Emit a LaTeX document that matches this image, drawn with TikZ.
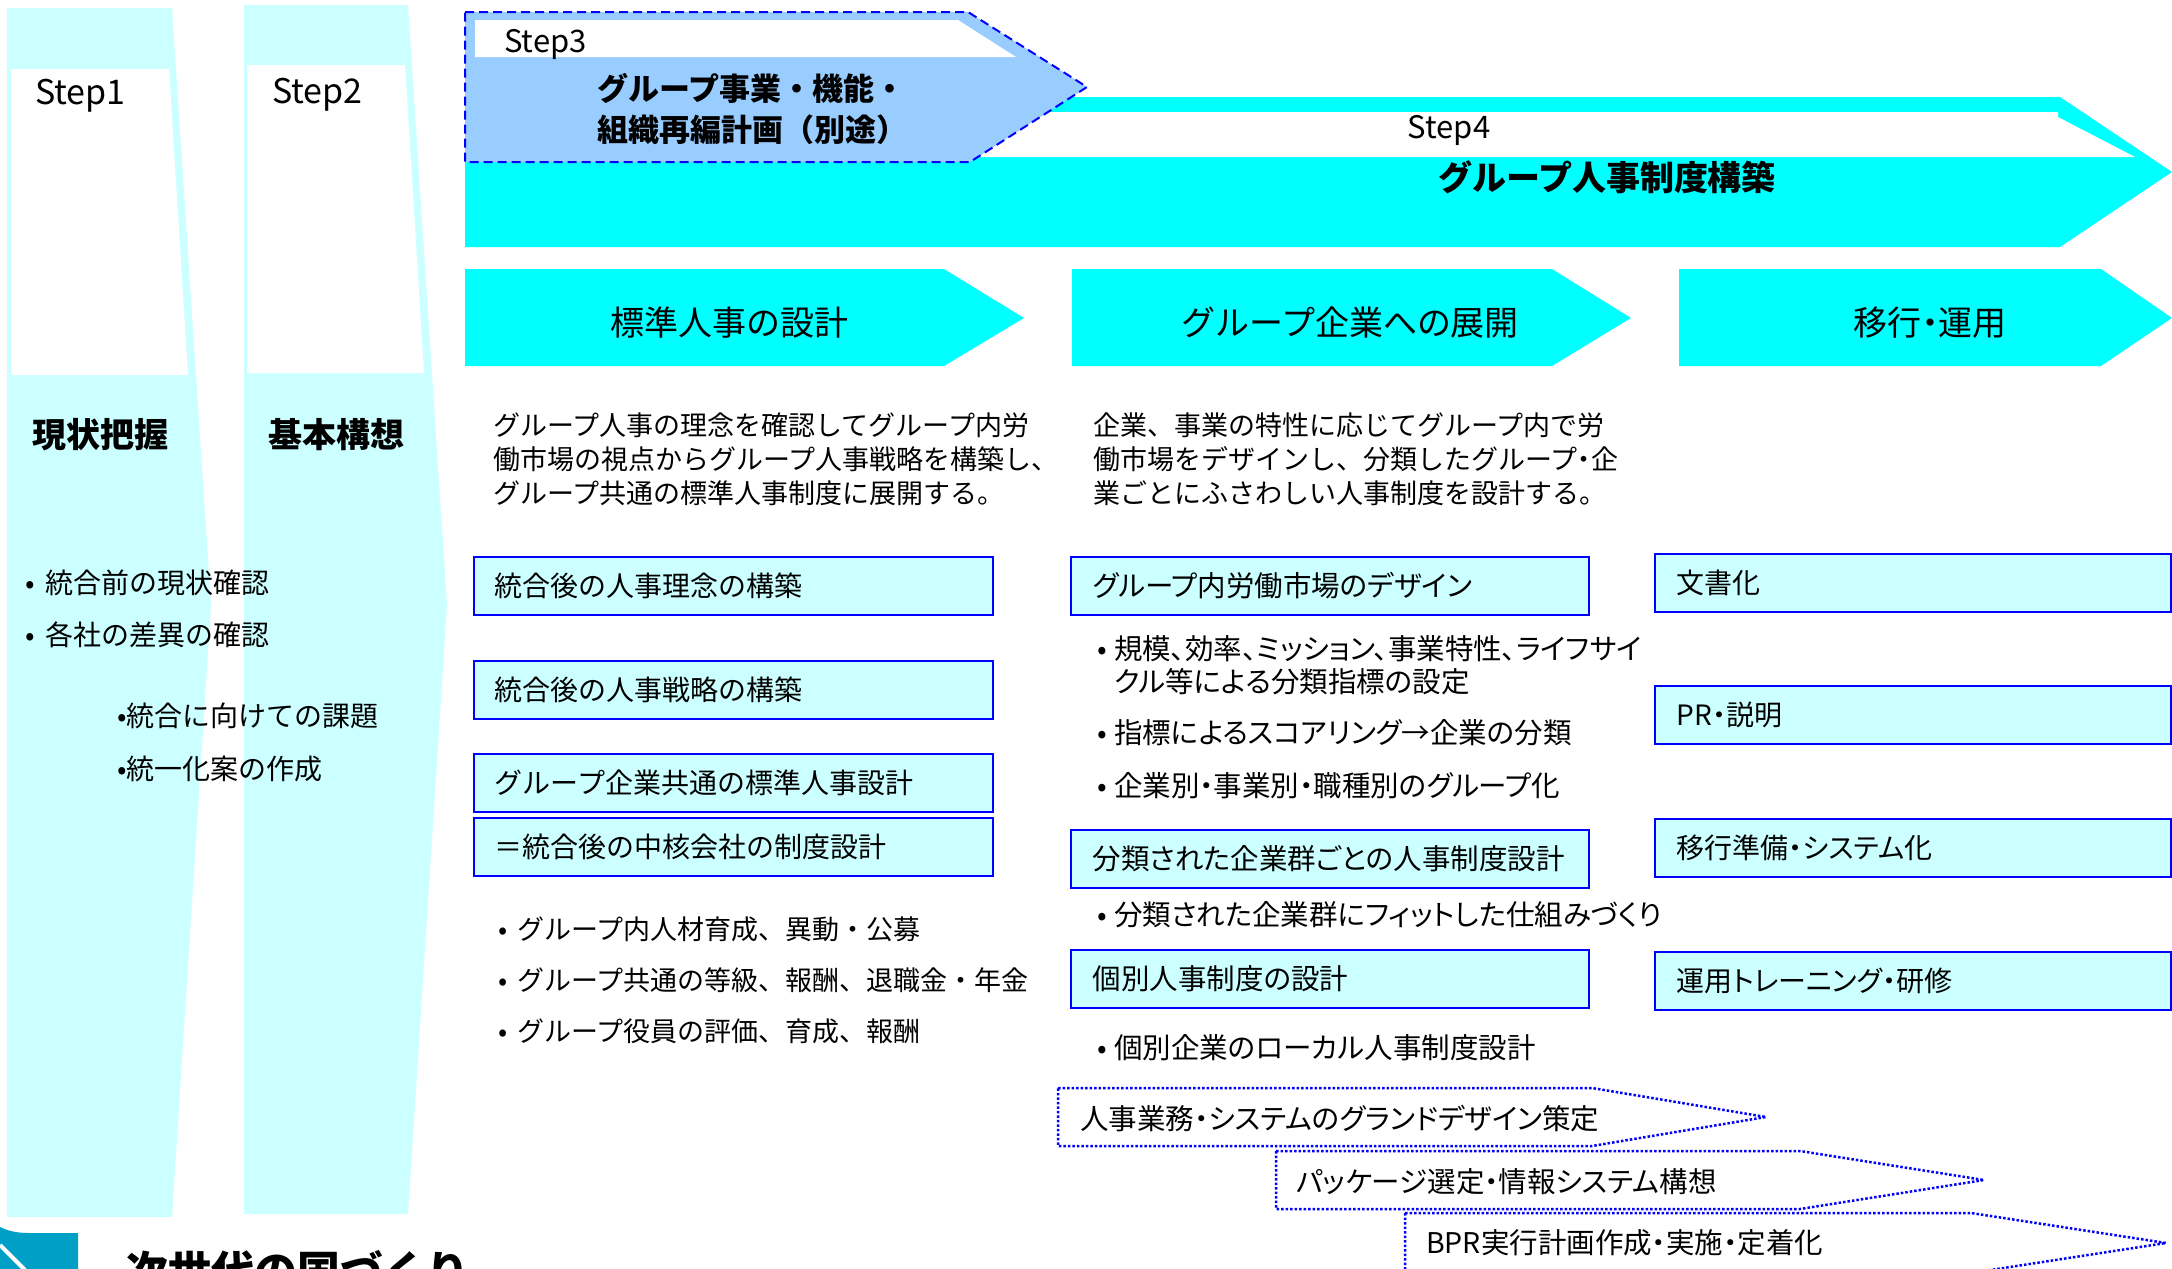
\documentclass[tikz,border=0pt]{standalone}
\usepackage{fontspec}
\setmainfont{Noto Sans CJK JP}
\newfontfamily\pjp{Noto Sans CJK JP}[CharacterWidth=AlternateProportional]
\definecolor{lc}{RGB}{204,255,255}
\definecolor{cy}{RGB}{0,255,255}
\definecolor{sthree}{RGB}{153,204,255}
\definecolor{bl}{RGB}{0,0,255}
\definecolor{db}{RGB}{0,160,198}
\begin{document}
\begin{tikzpicture}[x=1pt,y=-1pt,
  fsz/.style={font=\fontsize{#1}{34}\selectfont},
  psz/.style={font=\pjp\fontsize{#1}{34}\selectfont},
  bfsz/.style={font=\bfseries\fontsize{#1}{42}\selectfont},
  lbl/.style={inner sep=0pt, anchor=west},
  boxs/.style={draw=bl, fill=lc, line width=1.5pt, anchor=north west,
    minimum height=58pt, inner xsep=21pt, inner ysep=0pt, text width=#1, align=left,
    font=\fontsize{28}{34}\selectfont},
  dotarr/.style={draw=bl, line width=2.5pt, dash pattern=on 2.5pt off 2pt},
  phase/.style={fill=cy}
]
\useasboundingbox (0,0) rectangle (2172,1269);
\fill[white] (0,0) rectangle (2172,1269);
\clip (0,0) rectangle (2172,1269);

% ---------- Step1 / Step2 columns
\fill[lc] (7,8) -- (172,8) -- (211,605) -- (172,1217) -- (7,1217) -- cycle;
\fill[white] (11,69) -- (169,69) -- (188,375) -- (11,375) -- cycle;
\fill[lc] (244,5) -- (408,5) -- (447,605) -- (408,1214) -- (244,1214) -- cycle;
\fill[white] (247,65) -- (405,65) -- (424,373) -- (247,373) -- cycle;

\node[lbl, fsz=34] (s1) at (35,96) {Step1};
\node[lbl, fsz=34] (s2) at (272,95) {Step2};
\node[bfsz=34, inner sep=0pt] (s1t) at (100,435) {現状把握};
\node[bfsz=34, inner sep=0pt] (s2t) at (336,435) {基本構想};

\node[lbl, fsz=28] (b11) at (25,583) {\makebox[20pt][l]{•}統合前の現状確認};
\node[lbl, fsz=28] (b12) at (25,635) {\makebox[20pt][l]{•}各社の差異の確認};
\node[lbl, fsz=28] (b21) at (117,716) {•統合に向けての課題};
\node[lbl, fsz=28] (b22) at (117,769) {•統一化案の作成};

% ---------- Step4 big arrow
\fill[cy] (465,97) -- (2060,97) -- (2172,172) -- (2060,247) -- (465,247) -- cycle;
\fill[white] (475,112) -- (2058,112) -- (2058,117) -- (2135,157) -- (475,157) -- cycle;
\node[fsz=31, inner sep=0pt] (s4) at (1449,130) {Step4};
\node[bfsz=34, inner sep=0pt] (s4t) at (1607,177) {グループ人事制度構築};

% ---------- Step3 box
\filldraw[fill=sthree, draw=bl, line width=2pt, dash pattern=on 9pt off 5pt]
  (465,12) -- (968,12) -- (1087,87) -- (970,162) -- (465,162) -- cycle;
\fill[white] (475,20) -- (958,20) -- (1016,57) -- (475,57) -- cycle;
\node[lbl, fsz=31] (s3) at (504,44) {Step3};
\node[lbl, bfsz=31] (s3a) at (597,88) {グループ事業・機能・};
\node[lbl, bfsz=31] (s3b) at (597,130) {組織再編計画（別途）};

% ---------- phase chevrons
\fill[phase] (465,269) -- (944,269) -- (1024,318) -- (944,366) -- (465,366) -- cycle;
\fill[phase] (1072,269) -- (1552,269) -- (1631,318) -- (1552,366) -- (1072,366) -- cycle;
\fill[phase] (1679,269) -- (2101,269) -- (2172,318) -- (2101,366) -- (1679,366) -- cycle;
\node[fsz=34, inner sep=0pt] (p1) at (729,323) {標準人事の設計};
\node[fsz=34, inner sep=0pt] (p2) at (1350,323) {グループ企業への展開};
\node[psz=34, inner sep=0pt] (p3) at (1930,323) {移行・運用};

% ---------- descriptions
\node[lbl, fsz=27, align=left] (d1) at (493,459)
  {グループ人事の理念を確認してグループ内労\\働市場の視点からグループ人事戦略を構築し、\\グループ共通の標準人事制度に展開する。};
\node[lbl, fsz=27, align=left] (d2) at (1093,459)
  {企業、事業の特性に応じてグループ内で労\\働市場をデザインし、分類したグループ{\pjp ・}企\\業ごとにふさわしい人事制度を設計する。};

% ---------- column 1 boxes
\node[boxs=477pt] (bA) at (473,556) {統合後の人事理念の構築};
\node[boxs=477pt] (bB) at (473,660) {統合後の人事戦略の構築};
\node[boxs=477pt] (bC) at (473,753) {グループ企業共通の標準人事設計};
\node[boxs=477pt] (bD) at (473,817) {＝統合後の中核会社の制度設計};
\node[lbl, fsz=27] (c11) at (498,929) {\makebox[19pt][l]{•}グループ内人材育成、異動・公募};
\node[lbl, fsz=27] (c12) at (498,980) {\makebox[19pt][l]{•}グループ共通の等級、報酬、退職金・年金};
\node[lbl, fsz=27] (c13) at (498,1031) {\makebox[19pt][l]{•}グループ役員の評価、育成、報酬};

% ---------- column 2 boxes
\node[boxs=474pt, inner xsep=22pt, psz=28.5] (bE) at (1070,556) {グループ内労働市場のデザイン};
\node[boxs=474pt, inner xsep=22pt, psz=28.5] (bF) at (1070,829) {分類された企業群ごとの人事制度設計};
\node[boxs=474pt, inner xsep=22pt, psz=28.5] (bG) at (1070,949) {個別人事制度の設計};
\node[lbl, psz=28.5] (c21) at (1097,649) {\makebox[17pt][l]{•}規模、効率、ミッション、事業特性、ライフサイ};
\node[lbl, psz=28.5] (c21b) at (1114,682) {クル等による分類指標の設定};
\node[lbl, psz=28.5] (c22) at (1097,733) {\makebox[17pt][l]{•}指標によるスコアリング→企業の分類};
\node[lbl, psz=28.5] (c23) at (1097,786) {\makebox[17pt][l]{•}企業別・事業別・職種別のグループ化};
\node[lbl, psz=28.5] (c24) at (1097,915) {\makebox[17pt][l]{•}分類された企業群にフィットした仕組みづくり};
\node[lbl, psz=28.5] (c25) at (1097,1048) {\makebox[17pt][l]{•}個別企業のローカル人事制度設計};

% ---------- column 3 boxes
\node[boxs=472pt, inner xsep=22pt, psz=28] (bH) at (1654,553) {文書化};
\node[boxs=472pt, inner xsep=22pt, psz=28] (bI) at (1654,685) {PR・説明};
\node[boxs=472pt, inner xsep=22pt, psz=28] (bJ) at (1654,818) {移行準備・システム化};
\node[boxs=472pt, inner xsep=22pt, psz=28] (bK) at (1654,951) {運用トレーニング・研修};

% ---------- dotted arrows
\draw[dotarr] (1058,1088) -- (1592,1088) -- (1766,1117) -- (1592,1146) -- (1058,1146) -- cycle;
\draw[dotarr] (1276,1151) -- (1800,1151) -- (1984,1180) -- (1800,1209) -- (1276,1209) -- cycle;
\draw[dotarr] (1405,1213) -- (1971,1213) -- (2166,1243) -- (1971,1273) -- (1405,1273) -- cycle;
\node[lbl, psz=28.5] (a1) at (1080,1119) {人事業務・システムのグランドデザイン策定};
\node[lbl, psz=28.5] (a2) at (1296,1182) {パッケージ選定・情報システム構想};
\node[lbl, psz=28.5] (a3) at (1426,1243) {BPR実行計画作成・実施・定着化};

% ---------- bottom title (cut off at the lower edge, as in the reference)
\fill[db] (0,1227) .. controls (10,1232) and (20,1233) .. (30,1233) -- (78,1233) -- (78,1275) -- (0,1275) -- cycle;
\draw[white, line width=4pt] (0,1245) -- (25,1270);
\node[anchor=north west, inner sep=0pt, bfsz=43] (title) at (125,1250) {次世代の国づくり};
\end{tikzpicture}
\end{document}
